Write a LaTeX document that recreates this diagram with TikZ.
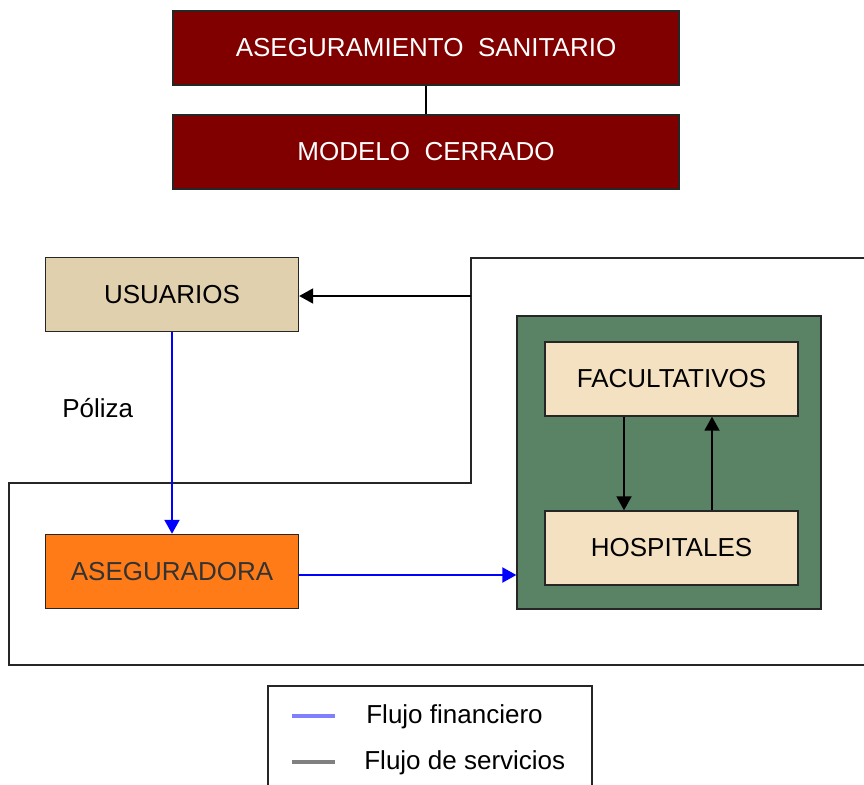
\documentclass[tikz,border=0pt]{standalone}
\usepackage{fontspec}
\setmainfont{Liberation Sans}
\usetikzlibrary{arrows.meta}
\definecolor{darkred}{HTML}{800000}
\definecolor{tanfill}{HTML}{E1D0AE}
\definecolor{orangefill}{HTML}{FF7B17}
\definecolor{greenfill}{HTML}{5A8365}
\definecolor{creamfill}{HTML}{F4E1C1}
\definecolor{legblue}{HTML}{7F7FFF}
\definecolor{leggray}{HTML}{808080}
\tikzset{
  box/.style={draw=black!85, line width=0.8pt, minimum width=5.06cm, minimum height=1.48cm, inner sep=0pt, font=\fontsize{14.8}{17}\selectfont},
  titlebox/.style={box, fill=darkred, text=white, minimum width=10.12cm},
  finarrow/.style={draw=blue, line width=1.2pt, -{Triangle[length=0.28cm,width=0.3cm]}},
  servarrow/.style={draw=black, line width=1.1pt, -{Triangle[length=0.28cm,width=0.3cm]}},
  frame/.style={draw=black!85, line width=1pt},
  lbl/.style={font=\fontsize{14.8}{17}\selectfont, inner sep=0pt}
}
\begin{document}
\begin{tikzpicture}[x=0.02cm,y=-0.02cm]
\useasboundingbox (0,0) rectangle (864,784);
% outer frames
\draw[frame] (870,258) -- (471,258) -- (471,483) -- (9,483) -- (9,665) -- (870,665);
\draw[frame] (268,790) -- (268,686) -- (592,686) -- (592,790);
% title boxes
\node[titlebox] (aseg) at (426,48) {ASEGURAMIENTO\ \ SANITARIO};
\node[titlebox] (modelo) at (426,152) {MODELO\ \ CERRADO};
\draw[line width=1pt] (aseg.south) -- (modelo.north);
% main boxes
\node[box, fill=tanfill] (usu) at (172,294.5) {USUARIOS};
\node[box, fill=orangefill, text=black!80] (asegu) at (172,571.5) {ASEGURADORA};
\node[draw=black!85, line width=0.8pt, fill=greenfill, minimum width=6.08cm, minimum height=5.86cm, inner sep=0pt] (prov) at (669,462.5) {};
\node[box, fill=creamfill] (fac) at (671.5,379) {FACULTATIVOS};
\node[box, fill=creamfill] (hosp) at (671.5,548) {HOSPITALES};
% connectors
\coordinate (srv) at (471,296);
\draw[servarrow] (srv) -- (usu.east |- srv);
\draw[finarrow] (usu.south) -- (asegu.north);
\draw[finarrow] (asegu.east |- 0,575) -- (prov.west |- 0,575);
\draw[servarrow] (fac.south -| 624,0) -- (hosp.north -| 624,0);
\draw[servarrow] (hosp.north -| 712,0) -- (fac.south -| 712,0);
% labels
\node[lbl, anchor=west] (poliza) at (62,408) {Póliza};
% legend
\coordinate (lb1) at (292,716);
\coordinate (lb2) at (335,716);
\coordinate (lg1) at (292,762);
\coordinate (lg2) at (335,762);
\draw[legblue, line width=2pt] (lb1) -- (lb2);
\draw[leggray, line width=2pt] (lg1) -- (lg2);
\node[lbl, anchor=west] (lfin) at (366,717) {Flujo financiero};
\node[lbl, anchor=west] (lser) at (364,763) {Flujo de servicios};
\end{tikzpicture}
\end{document}
